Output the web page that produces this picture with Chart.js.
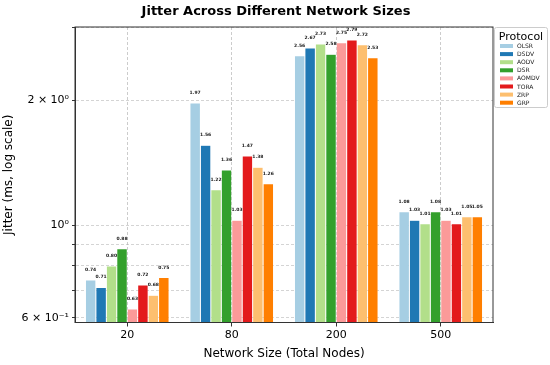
<!DOCTYPE html>
<html>
<head>
<meta charset="utf-8">
<script src="https://cdn.jsdelivr.net/npm/chart.js@4.4.1/dist/chart.umd.min.js"></script>
<style>
  html, body { margin: 0; padding: 0; background: #fff; }
</style>
</head>
<body>
<canvas id="chart" width="550" height="365"></canvas>
<script>
const sizes = ["20", "80", "200", "500"];
const protocols = ["OLSR", "DSDV", "AODV", "DSR", "AOMDV", "TORA", "ZRP", "GRP"];
const olsr = [0.74, 1.97, 2.56, 1.08];
const dsdv = [0.71, 1.56, 2.67, 1.03];
const aodv = [0.80, 1.22, 2.73, 1.01];
const dsr = [0.88, 1.36, 2.58, 1.08];
const aomdv = [0.63, 1.03, 2.75, 1.03];
const tora = [0.72, 1.47, 2.79, 1.01];
const zrp = [0.68, 1.38, 2.72, 1.05];
const grp = [0.75, 1.26, 2.53, 1.05];
const yTicks = [0.6, 0.7, 0.8, 0.9, 1, 2, 3];
const yTickLabels = { 0.6: "6 × 10⁻¹", 1: "10⁰", 2: "2 × 10⁰" };

const colors = ["#a6cee3", "#1f78b4", "#b2df8a", "#33a02c", "#fb9a99", "#e31a1c", "#fdbf6f", "#ff7f00"];
const series = [olsr, dsdv, aodv, dsr, aomdv, tora, zrp, grp];
const font = "'DejaVu Sans', sans-serif";

const extras = {
  id: "extras",
  afterDatasetsDraw(chart) {
    const ctx = chart.ctx;
    ctx.save();
    ctx.font = "bold 4.5px " + font;
    ctx.fillStyle = "#222";
    ctx.textAlign = "center";
    ctx.textBaseline = "bottom";
    chart.data.datasets.forEach((ds, i) => {
      chart.getDatasetMeta(i).data.forEach((bar, j) => {
        ctx.fillText(ds.data[j].toFixed(2), bar.x, bar.y - 8);
      });
    });
    ctx.restore();
  },
  afterDraw(chart) {
    const ctx = chart.ctx;
    const a = chart.chartArea;
    ctx.save();
    // frame
    ctx.strokeStyle = "#333";
    ctx.lineWidth = 1;
    ctx.strokeRect(a.left, a.top, a.right - a.left, a.bottom - a.top);
    // title
    ctx.fillStyle = "#000";
    ctx.font = "bold 13px " + font;
    ctx.textAlign = "center";
    ctx.textBaseline = "middle";
    ctx.fillText("Jitter Across Different Network Sizes", 276, 12);
    // legend
    const lx = 494.5, ly = 27.5, lw = 53, lh = 80;
    ctx.fillStyle = "rgba(255,255,255,0.9)";
    ctx.strokeStyle = "#cccccc";
    ctx.beginPath();
    ctx.roundRect(lx, ly, lw, lh, 2);
    ctx.fill();
    ctx.stroke();
    ctx.fillStyle = "#000";
    ctx.font = "11px " + font;
    ctx.fillText("Protocol", lx + lw / 2, 37);
    ctx.font = "6px " + font;
    ctx.textAlign = "left";
    protocols.forEach((p, i) => {
      const y = 46 + i * 8.1;
      ctx.fillStyle = colors[i];
      ctx.fillRect(500, y - 2, 13, 4);
      ctx.fillStyle = "#222";
      ctx.fillText(p, 517, y + 0.5);
    });
    ctx.restore();
  }
};

new Chart(document.getElementById("chart"), {
  type: "bar",
  data: {
    labels: sizes,
    datasets: protocols.map((p, i) => ({
      label: p,
      data: series[i],
      backgroundColor: colors[i],
      borderColor: "rgba(255,255,255,0.5)",
      borderWidth: 0.5,
      barPercentage: 1.0,
      categoryPercentage: 0.8,
    })),
  },
  options: {
    responsive: false,
    animation: false,
    layout: { padding: { top: 27, right: 57, left: 0, bottom: 0 } },
    plugins: {
      legend: { display: false },
      title: { display: false },
      tooltip: { enabled: false },
    },
    scales: {
      x: {
        afterFit(scale) { scale.height = 42.5; },
        grid: {
          offset: false,
          color: "rgba(170,170,170,0.6)",
          tickColor: "#333",
          tickLength: 4,
        },
        border: { dash: [3, 2], color: "#333" },
        ticks: { color: "#000", padding: 2, font: { family: font, size: 11 } },
        title: {
          display: true,
          text: "Network Size (Total Nodes)",
          color: "#000",
          font: { family: font, size: 12 },
          padding: { top: 0, bottom: 4 },
        },
      },
      y: {
        type: "logarithmic",
        min: 0.585,
        max: 3.0,
        z: 1,
        afterFit(scale) { scale.width = 75; },
        afterBuildTicks(scale) {
          scale.ticks = yTicks.map((v) => ({ value: v, major: v === 1 }));
        },
        grid: {
          color: "rgba(170,170,170,0.5)",
          tickColor: "#333",
          tickLength: 3,
        },
        border: { dash: [3, 2], color: "#333" },
        ticks: {
          color: "#000",
          padding: 3,
          autoSkip: false,
          font: { family: font, size: 11 },
          callback: (v) => yTickLabels[v] || "",
        },
        title: {
          display: true,
          text: "Jitter (ms, log scale)",
          color: "#000",
          font: { family: font, size: 12 },
          padding: { top: 2, bottom: 0 },
        },
      },
    },
  },
  plugins: [extras],
});
</script>
</body>
</html>
